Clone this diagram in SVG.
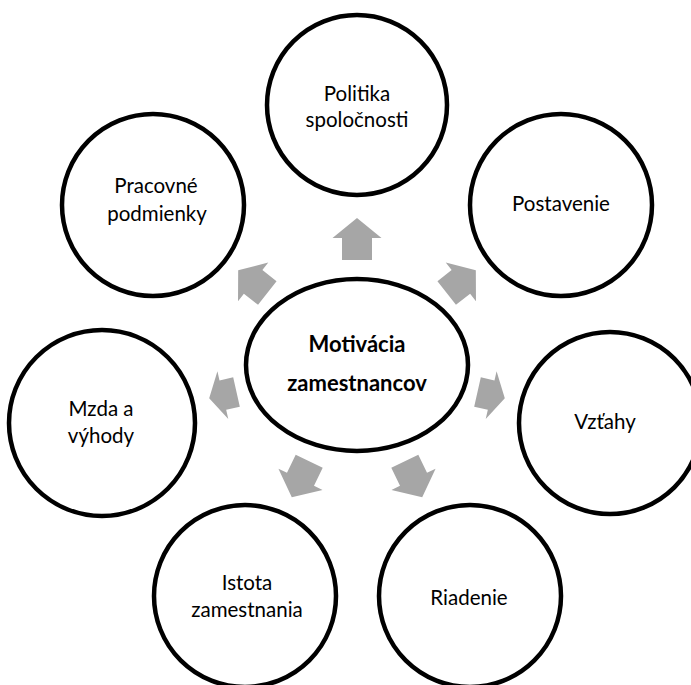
<svg xmlns="http://www.w3.org/2000/svg" width="691" height="685" viewBox="0 0 691 685">
<style>
.node{fill:#fff;stroke:#000;stroke-width:4.5}
.t{font-family:Lato,"Liberation Sans",sans-serif;font-size:20.5px;fill:#000;text-anchor:middle}
.b{font-family:Lato,"Liberation Sans",sans-serif;font-size:22px;font-weight:bold;fill:#000;text-anchor:middle}
.arr{fill:#A6A6A6;stroke:none}
</style>
<rect width="691" height="685" fill="#fff"/>
<g id="connectors">
<polygon class="arr" transform="translate(357,260) rotate(-90)" points="0,-15 22,-15 22,-24.5 42,0 22,24.5 22,15 0,15"/>
<polygon class="arr" transform="translate(267.3,293) rotate(218.1)" points="0,-15 18,-15 18,-24.5 37,0 18,24.5 18,15 0,15"/>
<polygon class="arr" transform="translate(446.7,293) rotate(-38.1)" points="0,-15 18,-15 18,-24.5 37,0 18,24.5 18,15 0,15"/>
<polygon class="arr" transform="translate(236.5,392) rotate(167.2)" points="0,-15 14,-15 14,-24.5 28,0 14,24.5 14,15 0,15"/>
<polygon class="arr" transform="translate(477.5,392) rotate(12.8)" points="0,-15 14,-15 14,-24.5 28,0 14,24.5 14,15 0,15"/>
<polygon class="arr" transform="translate(309.2,461.3) rotate(115.8)" points="0,-15 20,-15 20,-24.5 40,0 20,24.5 20,15 0,15"/>
<polygon class="arr" transform="translate(404.8,461.3) rotate(64.2)" points="0,-15 20,-15 20,-24.5 40,0 20,24.5 20,15 0,15"/>
</g>
<g id="center">
<ellipse class="node" cx="357" cy="365" rx="111" ry="86"/>
<text class="b" x="357" y="352">Motivácia</text>
<text class="b" x="357" y="391">zamestnancov</text>
</g>
<g id="politika">
<circle class="node" cx="357" cy="105" r="90"/>
<text class="t" x="357" y="101">Politika</text>
<text class="t" x="357" y="127">spoločnosti</text>
</g>
<g id="postavenie">
<circle class="node" cx="561" cy="205" r="91"/>
<text class="t" x="561" y="211">Postavenie</text>
</g>
<g id="vztahy">
<circle class="node" cx="610" cy="423" r="91"/>
<text class="t" x="605" y="429">Vzťahy</text>
</g>
<g id="riadenie">
<circle class="node" cx="470" cy="596" r="91"/>
<text class="t" x="469" y="605">Riadenie</text>
</g>
<g id="istota">
<circle class="node" cx="245" cy="596" r="91"/>
<text class="t" x="247" y="590">Istota</text>
<text class="t" x="247" y="617">zamestnania</text>
</g>
<g id="mzda">
<circle class="node" cx="102" cy="423" r="93"/>
<text class="t" x="101" y="416">Mzda a</text>
<text class="t" x="101" y="443">výhody</text>
</g>
<g id="pracovne">
<circle class="node" cx="153" cy="205" r="91"/>
<text class="t" x="156" y="193">Pracovné</text>
<text class="t" x="157" y="221">podmienky</text>
</g>
</svg>
